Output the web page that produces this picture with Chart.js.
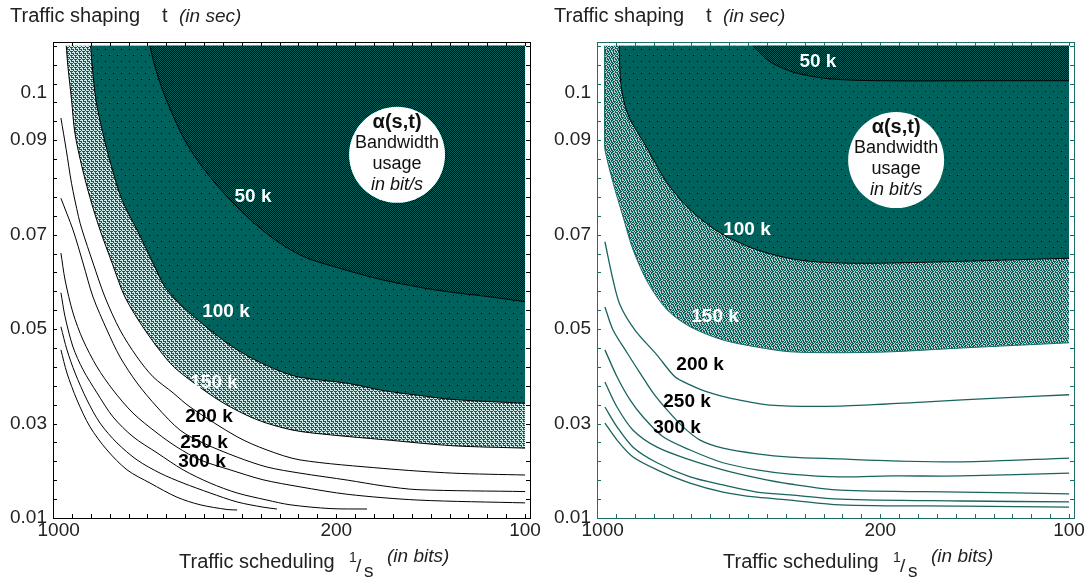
<!DOCTYPE html>
<html>
<head>
<meta charset="utf-8">
<script src="https://cdn.jsdelivr.net/npm/chart.js@4.4.1/dist/chart.umd.min.js"></script>
<style>
  html, body { margin: 0; padding: 0; background: #fff; }
  .wrap { display: flex; width: 1088px; height: 584px; }
  canvas { display: block; }
</style>
</head>
<body>
<div class="wrap">
  <canvas id="left" width="544" height="584"></canvas>
  <canvas id="right" width="544" height="584"></canvas>
</div>
<script>
// x = position on the scheduling axis (one unit per frame tick, 1000 bits at 0, 100 bits at 25)
// y = traffic shaping t in seconds
const xMarks = [0, 1, 2, 3, 4, 5, 6, 7, 8, 9, 10, 11, 12, 13, 14, 15, 16, 17, 18, 19, 20, 21, 22, 23, 24, 25];
const xLabelAt = [0.3, 15, 25];
const xLabelText = ["1000", "200", "100"];
const yMarks = [0.010, 0.014, 0.018, 0.022, 0.026, 0.030, 0.034, 0.038, 0.042, 0.046, 0.050, 0.054, 0.058,
  0.062, 0.066, 0.070, 0.074, 0.078, 0.082, 0.086, 0.090, 0.094, 0.098, 0.102, 0.106, 0.110];
const yLabelAt = [0.01, 0.03, 0.05, 0.07, 0.09, 0.1];
const yLabelText = ["0.01", "0.03", "0.05", "0.07", "0.09", "0.1"];
const xMax = 25.26;
const yMin = 0.01;
const yMax = 0.1108;
const yDataTop = 0.11;

const contourLabels = ["50 k", "100 k", "150 k", "200 k", "250 k", "300 k"];
const circleText = ["\u03b1(s,t)", "Bandwidth", "usage", "in bit/s"];

// left panel contours  [x, t]
const left50k = [[5.13, 0.110], [5.40, 0.1056], [5.86, 0.1000], [6.78, 0.0915], [7.52, 0.0865], [8.44, 0.0816],
  [9.37, 0.0774], [10.47, 0.0731], [11.76, 0.0689], [13.24, 0.0654], [14.90, 0.0632], [17.48, 0.0604],
  [20.24, 0.0583], [23.0, 0.0569], [25, 0.0558]];
const left100k = [[1.99, 0.110], [2.08, 0.1056], [2.27, 0.0986], [2.64, 0.0915], [3.10, 0.0844], [3.65, 0.0774],
  [4.45, 0.0710], [5.30, 0.0640], [5.93, 0.0589], [6.89, 0.0547], [8.16, 0.0503], [9.38, 0.0466],
  [10.59, 0.0437], [12.02, 0.0411], [13.08, 0.0398], [15.63, 0.0385], [17.48, 0.0370], [19.32, 0.0360],
  [21.17, 0.0351], [25, 0.0343]];
const left150k = [[0.70, 0.110], [0.79, 0.1056], [0.98, 0.0986], [1.16, 0.0915], [1.53, 0.0844], [1.99, 0.0774],
  [2.49, 0.0710], [3.13, 0.0640], [3.81, 0.0568], [4.87, 0.0498], [6.20, 0.0428], [7.26, 0.0392],
  [9.00, 0.0344], [10.81, 0.0308], [12.71, 0.0286], [14.71, 0.0276], [17.48, 0.0266], [21.17, 0.0253],
  [25, 0.0248]];
const left200k = [[0.42, 0.0947], [0.70, 0.0880], [0.98, 0.0809], [1.35, 0.0738], [1.54, 0.0710], [2.12, 0.0640],
  [2.75, 0.0568], [3.55, 0.0498], [4.45, 0.0441], [5.30, 0.0399], [6.36, 0.0365], [7.26, 0.0335],
  [9.75, 0.0272], [11.33, 0.0244], [13.08, 0.0223], [17.48, 0.0205], [21.17, 0.0195], [25, 0.0191]];
const left250k = [[0.42, 0.0777], [1.06, 0.0710], [1.59, 0.0640], [2.12, 0.0568], [2.86, 0.0498], [3.55, 0.0441],
  [4.45, 0.0386], [5.51, 0.0335], [6.73, 0.0286], [7.94, 0.0259], [9.75, 0.0229], [11.33, 0.0208],
  [13.08, 0.0195], [15.63, 0.0180], [17.48, 0.0168], [19.32, 0.0160], [25, 0.0156]];
const left300k = [[0.42, 0.0661], [0.64, 0.0604], [1.06, 0.0534], [1.59, 0.0477], [2.33, 0.0420], [3.18, 0.0371],
  [4.24, 0.0322], [5.51, 0.0280], [6.57, 0.0250], [7.79, 0.0223], [9.38, 0.0202], [11.12, 0.0181],
  [13.08, 0.0166], [15.63, 0.0150], [19.32, 0.0138], [25, 0.0132]];
const left350k = [[0.42, 0.0577], [0.64, 0.0526], [1.06, 0.0462], [1.59, 0.0414], [2.33, 0.0365], [3.18, 0.0314],
  [4.24, 0.0272], [5.51, 0.0238], [6.89, 0.0202], [8.32, 0.0174], [9.75, 0.0153], [11.33, 0.0138],
  [12.55, 0.0128], [14.67, 0.0120], [16.63, 0.0119]];
const left400k = [[0.42, 0.0505], [0.74, 0.0456], [1.17, 0.0407], [1.80, 0.0350], [2.49, 0.0301], [3.39, 0.0259],
  [4.45, 0.0223], [5.67, 0.0195], [6.89, 0.0174], [8.32, 0.0153], [9.75, 0.0134], [11.12, 0.0123],
  [11.86, 0.0119]];
const left450k = [[0.42, 0.0456], [0.74, 0.0407], [1.27, 0.0350], [1.96, 0.0293], [2.86, 0.0244], [3.92, 0.0202],
  [5.14, 0.0174], [6.57, 0.0144], [7.79, 0.0128], [9.22, 0.0118], [9.75, 0.0117]];

// right panel contours  [x, t]
const right50k = [[8.26, 0.110], [9.16, 0.1066], [10.49, 0.1043], [12.34, 0.1030], [14.99, 0.1026], [21.3, 0.1026],
  [25, 0.1026]];
const right100k = [[1.17, 0.110], [1.27, 0.1017], [1.64, 0.0954], [2.70, 0.0880], [3.71, 0.0810], [4.93, 0.0753],
  [6.51, 0.0704], [8.47, 0.0668], [10.59, 0.0647], [12.87, 0.0640], [15.6, 0.0640], [25, 0.0650]];
const right150k = [[0.40, 0.110], [0.40, 0.0900], [0.42, 0.0880], [0.85, 0.0810], [1.38, 0.0738], [1.91, 0.0668],
  [2.70, 0.0598], [3.71, 0.0541], [4.93, 0.0505], [6.67, 0.0477], [8.47, 0.0462], [10.22, 0.0452],
  [12.87, 0.0450], [15.6, 0.0452], [19.3, 0.0460], [25, 0.0471]];
const right200k = [[0.42, 0.0685], [0.85, 0.0604], [1.22, 0.0551], [2.01, 0.0498], [3.18, 0.0445], [4.13, 0.0399],
  [4.93, 0.0382], [5.83, 0.0367], [7.04, 0.0354], [9.16, 0.0339], [12.87, 0.0337], [17.48, 0.0346],
  [21.19, 0.0354], [25, 0.0361]];
const right250k = [[0.42, 0.0547], [0.85, 0.0498], [1.59, 0.0450], [2.28, 0.0407], [2.97, 0.0365], [3.71, 0.0329],
  [4.56, 0.0293], [5.46, 0.0265], [6.67, 0.0248], [8.47, 0.0236], [10.22, 0.0229], [12.87, 0.0225],
  [15.6, 0.0221], [19.3, 0.0219], [25, 0.0227]];
const right300k = [[0.42, 0.0456], [1.06, 0.0399], [1.75, 0.0350], [2.44, 0.0314], [3.50, 0.0272], [4.93, 0.0244],
  [6.67, 0.0217], [8.47, 0.0202], [10.22, 0.0193], [12.87, 0.0187], [15.6, 0.0189], [19.3, 0.0189], [25, 0.0195]];
const right350k = [[0.42, 0.0388], [1.06, 0.0335], [1.91, 0.0286], [3.18, 0.0250], [4.93, 0.0223], [6.67, 0.0202],
  [8.47, 0.0185], [10.22, 0.0172], [12.87, 0.0159], [19.3, 0.0155], [25, 0.0151]];
const right400k = [[0.42, 0.0335], [1.06, 0.0293], [1.91, 0.0250], [3.18, 0.0217], [4.93, 0.0187], [6.67, 0.0170],
  [8.47, 0.0155], [10.22, 0.0149], [12.87, 0.0140], [19.3, 0.0136], [25, 0.0134]];
const right450k = [[0.42, 0.0301], [1.06, 0.0265], [1.91, 0.0229], [3.18, 0.0202], [4.93, 0.0174], [6.67, 0.0155],
  [8.47, 0.0144], [10.22, 0.0138], [12.87, 0.0128], [19.3, 0.0125], [25, 0.0123]];

// where the contour values are written, and the legend bubble
const leftLabelX = [10.59, 9.16, 8.53, 8.26, 8.0, 7.89];
const leftLabelY = [0.0780, 0.0536, 0.0386, 0.0314, 0.0259, 0.0219];
const rightLabelX = [11.7, 7.94, 6.25, 5.46, 4.77, 4.24];
const rightLabelY = [0.1066, 0.0710, 0.0526, 0.0424, 0.0346, 0.0291];
const leftBubble = [18.22, 0.0869];
const rightBubble = [15.84, 0.0858];

const FONT = "'Liberation Sans', Arial, sans-serif";
const TEAL = [0, 98, 92];
const INK = "#222";

function tile(ctx, w, h, paint) {
  const c = document.createElement("canvas");
  c.width = w;
  c.height = h;
  const g = c.getContext("2d");
  const img = g.createImageData(w, h);
  for (let y = 0; y < h; y++) {
    for (let x = 0; x < w; x++) {
      const [r, gg, b] = paint(x, y);
      const i = (y * w + x) * 4;
      img.data[i] = r; img.data[i + 1] = gg; img.data[i + 2] = b; img.data[i + 3] = 255;
    }
  }
  g.putImageData(img, 0, 0);
  return ctx.createPattern(c, "repeat");
}

const BLACK = [0, 0, 0];
const PALE = [205, 236, 233];
const GREY = [196, 200, 200];

function makeFills(ctx) {
  return {
    dark: tile(ctx, 4, 4, (x, y) => ((x + y) % 2 === 0 ? TEAL : BLACK)),
    teal: tile(ctx, 8, 12, (x, y) => ((x === 1 && y === 1) || (x === 5 && y === 7) ? BLACK : TEAL)),
    hatch: tile(ctx, 8, 4, (x, y) => {
      const rows = ["WWWTWWWT", "TTWTTTWT", "WTWWWTWW", "TWTTTWTT"];
      return rows[y][x] === "W" ? PALE : TEAL;
    }),
    maze: tile(ctx, 8, 8, (x, y) => {
      const rows = ["TTGTTGGT", "GTGTGTTG", "GTTGTTGT", "TGTGGTGT", "TGTTGTGG", "GTGTGTTT", "TTGTTGTG", "GGTGTTGT"];
      return rows[y][x] === "G" ? GREY : TEAL;
    }),
  };
}

function line(points, color, width, fillStyle) {
  return {
    data: points.map(([x, y]) => ({ x, y })),
    borderColor: color,
    borderWidth: width,
    backgroundColor: fillStyle || "transparent",
    fill: fillStyle ? { value: yDataTop } : false,
    pointRadius: 0,
    tension: 0.3,
  };
}

function buildPanel(id, panel) {
  const canvas = document.getElementById(id);
  const ctx = canvas.getContext("2d");
  const fills = makeFills(ctx);

  const datasets = [
    {
      data: [{ x: panel.bubble[0], y: panel.bubble[1] }],
      showLine: false,
      pointRadius: 48,
      pointBackgroundColor: "#fff",
      pointBorderWidth: 0,
      order: -1,
    },
    line(panel.c50, "#000", 1, fills.dark),
    line(panel.c100, "#000", 1, fills.teal),
    line(panel.c150, panel.edge, 1, fills[panel.band]),
  ];
  panel.rest.forEach((pts) => datasets.push(line(pts, panel.lineColor, panel.lineWidth)));

  const frame = { display: true, color: panel.frameColor, width: 1, dash: panel.frameDash };

  const decorations = {
    id: "decorations",
    afterDatasetsDraw(chart) {
      const c = chart.ctx;
      const sx = chart.scales.x;
      const sy = chart.scales.y;
      c.save();
      c.textAlign = "center";
      c.textBaseline = "middle";
      c.font = `bold 19px ${FONT}`;
      contourLabels.forEach((txt, i) => {
        c.fillStyle = i < 3 ? "#fff" : "#000";
        c.fillText(txt, sx.getPixelForValue(panel.labelX[i]), sy.getPixelForValue(panel.labelY[i]));
      });
      const cx = sx.getPixelForValue(panel.bubble[0]);
      const cy = sy.getPixelForValue(panel.bubble[1]);
      const fonts = [`bold 20px ${FONT}`, `18px ${FONT}`, `18px ${FONT}`, `italic 18px ${FONT}`];
      const offs = [-27, -7, 14, 35];
      c.textBaseline = "alphabetic";
      c.fillStyle = "#111";
      circleText.forEach((txt, i) => {
        c.font = fonts[i];
        c.fillText(txt, cx, cy + offs[i]);
      });
      c.restore();
    },
    afterDraw(chart) {
      const c = chart.ctx;
      const { left, right, top, bottom } = chart.chartArea;
      const sx = chart.scales.x;
      const sy = chart.scales.y;
      c.save();
      c.strokeStyle = panel.frameColor;
      c.lineWidth = 1;
      c.beginPath();
      xMarks.forEach((m) => {
        const px = Math.round(sx.getPixelForValue(m)) + 0.5;
        c.moveTo(px, bottom); c.lineTo(px, bottom - 4);
        c.moveTo(px, top); c.lineTo(px, top + 4);
      });
      yMarks.forEach((m) => {
        const py = Math.round(sy.getPixelForValue(m)) + 0.5;
        c.moveTo(left, py); c.lineTo(left + 4, py);
        c.moveTo(right, py); c.lineTo(right - 4, py);
      });
      c.stroke();

      // axis titles
      c.fillStyle = INK;
      c.textAlign = "left";
      c.textBaseline = "alphabetic";
      c.font = `20px ${FONT}`;
      c.fillText("Traffic shaping", 10, 22);
      c.fillText("t", 162, 22);
      c.font = `italic 19px ${FONT}`;
      c.fillText("(in sec)", 179, 22);
      c.font = `20px ${FONT}`;
      c.fillText("Traffic scheduling", 179, 568);
      c.font = `14px ${FONT}`;
      c.fillText("1", 349, 562);
      c.font = `19px ${FONT}`;
      c.fillText("/", 356, 572);
      c.fillText("s", 364, 577);
      c.font = `italic 19px ${FONT}`;
      c.fillText("(in bits)", 387, 562);
      c.restore();
    },
  };

  return new Chart(canvas, {
    type: "line",
    data: { datasets },
    plugins: [decorations],
    options: {
      responsive: false,
      animation: false,
      events: [],
      layout: { padding: 0, autoPadding: false },
      plugins: { legend: { display: false }, tooltip: { enabled: false } },
      scales: {
        x: {
          type: "linear",
          position: "bottom",
          min: 0,
          max: xMax,
          border: frame,
          grid: { drawOnChartArea: false, drawTicks: false },
          ticks: {
            autoSkip: false,
            maxRotation: 0,
            padding: 1,
            color: INK,
            font: { family: FONT, size: 19 },
            callback: (v, i) => xLabelText[i],
          },
          afterBuildTicks: (s) => { s.ticks = xLabelAt.map((v) => ({ value: v })); },
          afterFit: (s) => { s.height = 66; },
        },
        x2: {
          type: "linear",
          position: "top",
          min: 0,
          max: xMax,
          border: frame,
          grid: { drawOnChartArea: false, drawTicks: false },
          ticks: { display: false },
          afterFit: (s) => { s.height = 42; },
        },
        y: {
          type: "linear",
          position: "left",
          min: yMin,
          max: yMax,
          border: frame,
          grid: { drawOnChartArea: false, drawTicks: false },
          ticks: {
            autoSkip: false,
            padding: 6,
            color: INK,
            font: { family: FONT, size: 19 },
            callback: (v, i) => yLabelText[i],
          },
          afterBuildTicks: (s) => { s.ticks = yLabelAt.map((v) => ({ value: v })); },
          afterFit: (s) => { s.width = 53; },
        },
        y2: {
          type: "linear",
          position: "right",
          min: yMin,
          max: yMax,
          border: frame,
          grid: { drawOnChartArea: false, drawTicks: false },
          ticks: { display: false },
          afterFit: (s) => { s.width = 14; },
        },
      },
    },
  });
}

buildPanel("left", {
  c50: left50k,
  c100: left100k,
  c150: left150k,
  rest: [left200k, left250k, left300k, left350k, left400k, left450k],
  band: "hatch",
  edge: "#000",
  lineColor: "#000",
  lineWidth: 1,
  frameColor: "#000",
  frameDash: [],
  labelX: leftLabelX,
  labelY: leftLabelY,
  bubble: leftBubble,
});

buildPanel("right", {
  c50: right50k,
  c100: right100k,
  c150: right150k,
  rest: [right200k, right250k, right300k, right350k, right400k, right450k],
  band: "maze",
  edge: "rgb(20, 110, 104)",
  lineColor: "rgb(25, 100, 95)",
  lineWidth: 1.3,
  frameColor: "rgb(30, 110, 104)",
  frameDash: [1, 1],
  labelX: rightLabelX,
  labelY: rightLabelY,
  bubble: rightBubble,
});
</script>
</body>
</html>
